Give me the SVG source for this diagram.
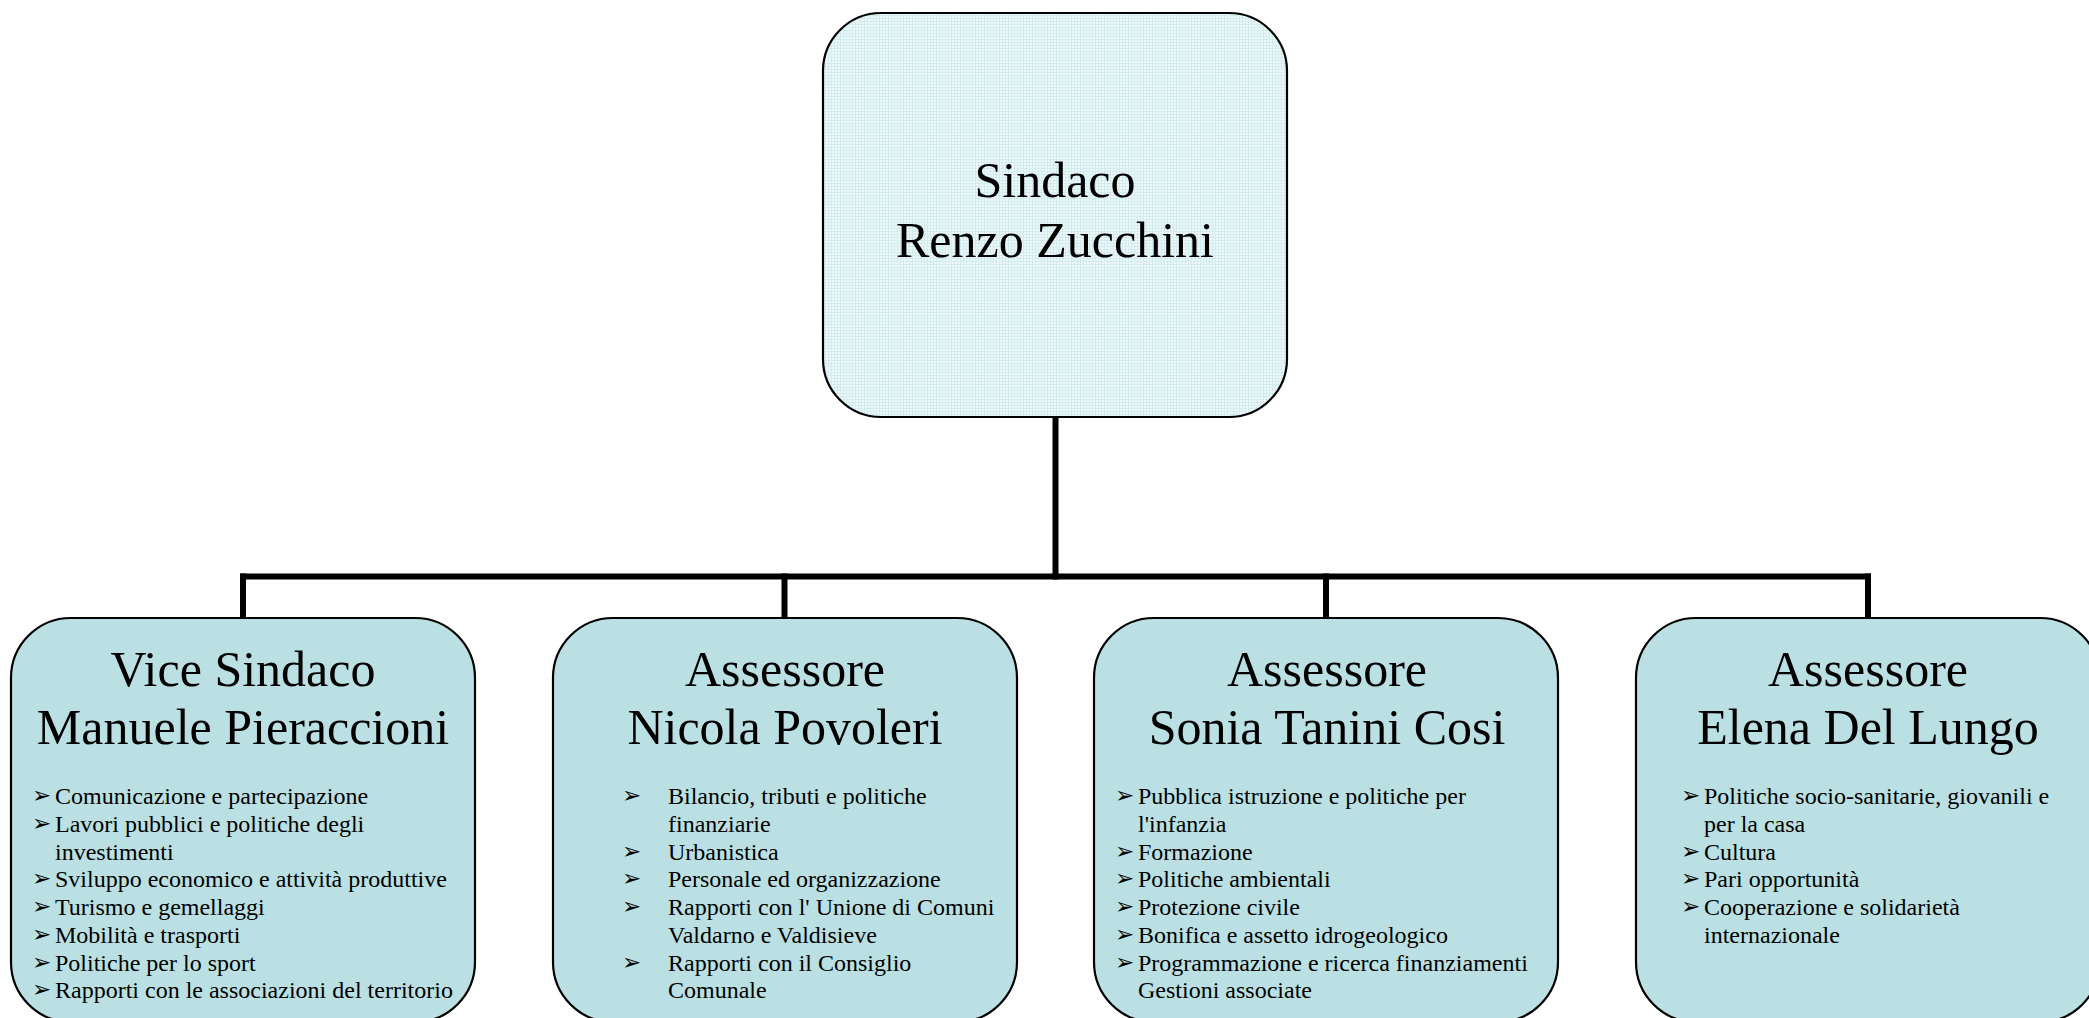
<svg xmlns="http://www.w3.org/2000/svg" width="2089" height="1018" viewBox="0 0 2089 1018">
<style>
.box{stroke:#000;stroke-width:2.2}
.child{fill:#BAE0E3}
.title{font-family:"Liberation Serif","Times New Roman",serif;font-size:50px;fill:#000;text-anchor:middle}
.item{font-family:"Liberation Serif","Times New Roman",serif;font-size:24px;fill:#000}
.bul{font-family:"DejaVu Sans",sans-serif;font-size:23px;fill:#000}
.conn{stroke:#000;stroke-width:6;fill:none;stroke-linecap:square}
</style>
<defs>
<pattern id="grid" width="6" height="6" patternUnits="userSpaceOnUse">
<rect width="6" height="6" fill="#EEF8F8"/>
<path d="M0 0.5H6M0 3.5H6M0.5 0V6M3.5 0V6" stroke="#D3ECEE" stroke-width="1"/>
</pattern>
</defs>
<rect width="2089" height="1018" fill="#fff"/>
<g id="connectors">
<path class="conn" d="M1055.5 417V576.5"/>
<path class="conn" d="M243 576.5H1868"/>
<path class="conn" d="M243 576.5V617"/>
<path class="conn" d="M784.5 576.5V617"/>
<path class="conn" d="M1326 576.5V617"/>
<path class="conn" d="M1868 576.5V617"/>
</g>
<g id="sindaco">
<rect class="box" x="823" y="13" width="464" height="404" rx="58" ry="58" fill="url(#grid)"/>
<text class="title" x="1055" y="197">Sindaco</text>
<text class="title" x="1055" y="257">Renzo Zucchini</text>
</g>
<g id="vice-sindaco">
<rect class="box child" x="11" y="618" width="464" height="404" rx="60" ry="60"/>
<text class="title" x="243" y="686">Vice Sindaco</text>
<text class="title" x="243" y="744">Manuele Pieraccioni</text>
<g class="bul">
<text x="32" y="803">➢</text><text x="32" y="831">➢</text><text x="32" y="886">➢</text><text x="32" y="914">➢</text><text x="32" y="942">➢</text><text x="32" y="970">➢</text><text x="32" y="997">➢</text>
</g>
<g class="item">
<text x="55" y="804">Comunicazione e partecipazione</text>
<text x="55" y="832">Lavori pubblici e politiche degli</text>
<text x="55" y="860">investimenti</text>
<text x="55" y="887">Sviluppo economico e attività produttive</text>
<text x="55" y="915">Turismo e gemellaggi</text>
<text x="55" y="943">Mobilità e trasporti</text>
<text x="55" y="971">Politiche per lo sport</text>
<text x="55" y="998">Rapporti con le associazioni del territorio</text>
</g>
</g>
<g id="povoleri">
<rect class="box child" x="553" y="618" width="464" height="404" rx="60" ry="60"/>
<text class="title" x="785" y="686">Assessore</text>
<text class="title" x="785" y="744">Nicola Povoleri</text>
<g class="bul">
<text x="622" y="803">➢</text><text x="622" y="859">➢</text><text x="622" y="886">➢</text><text x="622" y="914">➢</text><text x="622" y="970">➢</text>
</g>
<g class="item">
<text x="668" y="804">Bilancio, tributi e politiche</text>
<text x="668" y="832">finanziarie</text>
<text x="668" y="860">Urbanistica</text>
<text x="668" y="887">Personale ed organizzazione</text>
<text x="668" y="915">Rapporti con l' Unione di Comuni</text>
<text x="668" y="943">Valdarno e Valdisieve</text>
<text x="668" y="971">Rapporti con il Consiglio</text>
<text x="668" y="998">Comunale</text>
</g>
</g>
<g id="tanini-cosi">
<rect class="box child" x="1094" y="618" width="464" height="404" rx="60" ry="60"/>
<text class="title" x="1327" y="686">Assessore</text>
<text class="title" x="1327" y="744">Sonia Tanini Cosi</text>
<g class="bul">
<text x="1115" y="803">➢</text><text x="1115" y="859">➢</text><text x="1115" y="886">➢</text><text x="1115" y="914">➢</text><text x="1115" y="942">➢</text><text x="1115" y="970">➢</text>
</g>
<g class="item">
<text x="1138" y="804">Pubblica istruzione e politiche per</text>
<text x="1138" y="832">l'infanzia</text>
<text x="1138" y="860">Formazione</text>
<text x="1138" y="887">Politiche ambientali</text>
<text x="1138" y="915">Protezione civile</text>
<text x="1138" y="943">Bonifica e assetto idrogeologico</text>
<text x="1138" y="971">Programmazione e ricerca finanziamenti</text>
<text x="1138" y="998">Gestioni associate</text>
</g>
</g>
<g id="del-lungo">
<rect class="box child" x="1636" y="618" width="464" height="404" rx="60" ry="60"/>
<text class="title" x="1868" y="686">Assessore</text>
<text class="title" x="1868" y="744">Elena Del Lungo</text>
<g class="bul">
<text x="1681" y="803">➢</text><text x="1681" y="859">➢</text><text x="1681" y="886">➢</text><text x="1681" y="914">➢</text>
</g>
<g class="item">
<text x="1704" y="804">Politiche socio-sanitarie, giovanili e</text>
<text x="1704" y="832">per la casa</text>
<text x="1704" y="860">Cultura</text>
<text x="1704" y="887">Pari opportunità</text>
<text x="1704" y="915">Cooperazione e solidarietà</text>
<text x="1704" y="943">internazionale</text>
</g>
</g>
</svg>
